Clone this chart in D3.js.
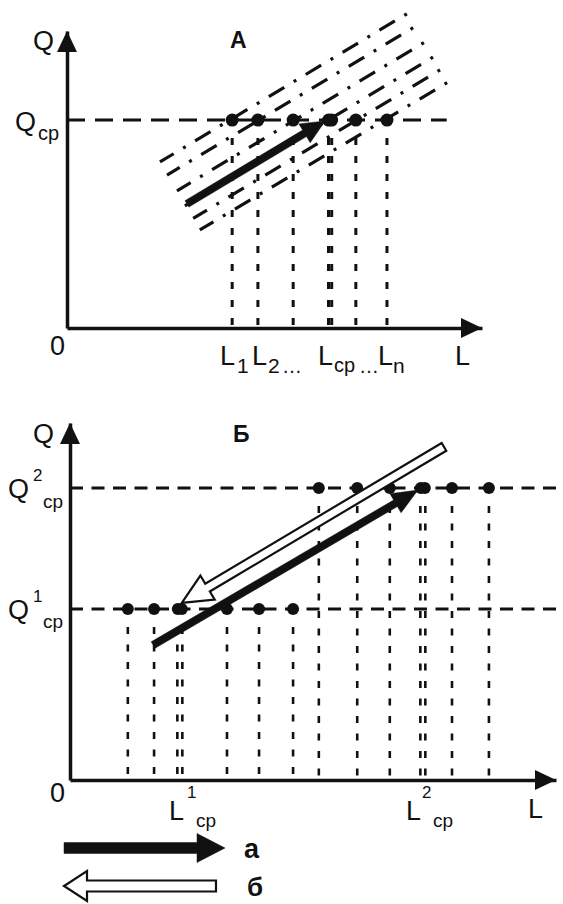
<!DOCTYPE html>
<html><head><meta charset="utf-8">
<script src="https://cdn.jsdelivr.net/npm/d3@7"></script>
<style>
html,body{margin:0;padding:0;background:#fff;}
svg{display:block;font-family:"Liberation Sans",Arial,Helvetica,sans-serif;}
</style></head><body>
<svg id="chart" width="563" height="904"></svg>
<script>
// ---- Panel A: one average level Qср and the spread of lengths L1..Ln ----
const qAvgA = 70;
const lengthsA = [39.8, 46, 54.5, 63.4, 69.6, 77.1];
const avgIndexA = 3;                       // the point at Lср
// parallel dash-dot lines around the trend, [L0, Q0, L1, Q1]
const bandA = [
  [22.4, 55.9, 81.9, 105.8],
  [24.1, 51.5, 83.4, 101.1],
  [26.5, 46.2, 86.0, 96.1],
  [28.4, 41.1, 88.2, 91.2],
  [30.4, 36.9, 89.9, 86.9],
  [32.0, 33.0, 91.6, 82.6]
];
const trendA = [28.9, 41.8, 62.2, 69.7];

// ---- Panel B: two average levels and the transitions between them ----
const qLevelsB = [47.9, 81.8];
const lengthsB1 = [11.9, 17.3, 22.6, 32.3, 38.9, 45.9];
const lengthsB2 = [51.2, 59.1, 65.8, 72.6, 78.6, 86.2];
const avgIndexB1 = 2;                      // L¹ср
const avgIndexB2 = 3;                      // L²ср
const arrowUpB = [17.1, 37.8, 71.6, 81.2];     // а
const arrowDownB = [76.95, 93.3, 23.0, 49.6];  // б

const svg = d3.select("#chart");

const xA = d3.scaleLinear().domain([0, 100]).range([67, 482]);
const yA = d3.scaleLinear().domain([0, 100]).range([328, 31]);
const xB = d3.scaleLinear().domain([0, 100]).range([70, 556]);
const yB = d3.scaleLinear().domain([0, 100]).range([780, 423]);

function arrowPoints(x0, y0, x1, y1, w, hl, hw) {
  const dx = x1 - x0, dy = y1 - y0, len = Math.hypot(dx, dy);
  const ux = dx / len, uy = dy / len, nx = -uy, ny = ux;
  const bx = x1 - ux * hl, by = y1 - uy * hl;
  const p = (x, y, k) => [x + nx * k, y + ny * k];
  return [p(x0, y0, w / 2), p(bx, by, w / 2), p(bx, by, hw), [x1, y1],
          p(bx, by, -hw), p(bx, by, -w / 2), p(x0, y0, -w / 2)];
}
function drawArrow(g, x0, y0, x1, y1, w, hl, hw, hollow) {
  g.append("polygon")
    .attr("points", arrowPoints(x0, y0, x1, y1, w, hl, hw).map(d => d.join(",")).join(" "))
    .attr("fill", hollow ? "#fff" : "#111")
    .attr("stroke", "#111")
    .attr("stroke-width", hollow ? 2.2 : 0.5)
    .attr("stroke-linejoin", "miter");
}
function drawAxes(g, x, y) {
  const x0 = x.range()[0], y0 = y.range()[0];
  const ax = g.append("g").attr("transform", `translate(0,${y0})`)
    .call(d3.axisBottom(x).tickValues([]).tickSizeOuter(0));
  const ay = g.append("g").attr("transform", `translate(${x0},0)`)
    .call(d3.axisLeft(y).tickValues([]).tickSizeOuter(0));
  [ax, ay].forEach(a => a.select(".domain").attr("stroke", "#111").attr("stroke-width", 3.5));
  const xt = x.range()[1], yt = y.range()[1];
  g.append("polygon").attr("fill", "#111")
    .attr("points", `${xt},${y0} ${xt - 21},${y0 - 10} ${xt - 21},${y0 + 10}`);
  g.append("polygon").attr("fill", "#111")
    .attr("points", `${x0},${yt} ${x0 - 10},${yt + 21} ${x0 + 10},${yt + 21}`);
}
function txt(x, y, s, size, bold) {
  svg.append("text").attr("x", x).attr("y", y).attr("font-size", size)
    .attr("font-weight", bold ? "bold" : "normal").attr("fill", "#111").text(s);
}

// ================= Panel A =================
const gA = svg.append("g");
drawAxes(gA, xA, yA);

// dash-dot band, pattern starts at the upper-right end
bandA.forEach(b => {
  gA.append("line")
    .attr("x1", xA(b[2])).attr("y1", yA(b[3]))
    .attr("x2", xA(b[0])).attr("y2", yA(b[1]))
    .attr("stroke", "#111").attr("stroke-width", 3.2)
    .attr("stroke-dasharray", "3,11,18,11");
});

// average level
gA.append("line")
  .attr("x1", xA(0)).attr("x2", xA(91.5)).attr("y1", yA(qAvgA)).attr("y2", yA(qAvgA))
  .attr("stroke", "#111").attr("stroke-width", 3).attr("stroke-dasharray", "18,10");

// drop lines to the L axis
lengthsA.forEach((l, i) => {
  const offs = i === avgIndexA ? [-1.6, 1.6] : [0];
  offs.forEach(o => {
    gA.append("line")
      .attr("x1", xA(l) + o).attr("x2", xA(l) + o)
      .attr("y1", yA(qAvgA) + 18).attr("y2", yA(0))
      .attr("stroke", "#111").attr("stroke-width", 3)
      .attr("stroke-dasharray", "7,11");
  });
});

// trend arrow
drawArrow(gA, xA(trendA[0]), yA(trendA[1]), xA(trendA[2]), yA(trendA[3]), 7.5, 24, 11, false);

// points on the average level
lengthsA.forEach((l, i) => {
  const offs = i === avgIndexA ? [-1.5, 1.5] : [0];
  offs.forEach(o => gA.append("circle").attr("cx", xA(l) + o).attr("cy", yA(qAvgA))
    .attr("r", 6.5).attr("fill", "#111"));
});

txt(33, 50, "Q", 27);
txt(230, 48, "А", 23, true);
txt(15, 131, "Q", 27);
txt(38, 140, "ср", 20);
txt(50, 355, "0", 27);
txt(455, 365, "L", 27);
txt(220, 365, "L", 27); txt(237, 373, "1", 21);
txt(252, 365, "L", 27); txt(268, 373, "2", 21); txt(282, 373, "…", 20);
txt(318, 365, "L", 27); txt(334, 372, "ср", 20); txt(359, 373, "…", 20);
txt(378, 365, "L", 27); txt(393, 373, "n", 21);

// ================= Panel B =================
const gB = svg.append("g");
drawAxes(gB, xB, yB);

qLevelsB.forEach(q => {
  gB.append("line")
    .attr("x1", xB(0)).attr("x2", xB(100.3)).attr("y1", yB(q)).attr("y2", yB(q))
    .attr("stroke", "#111").attr("stroke-width", 3).attr("stroke-dasharray", "13,8.5");
});

const setsB = [[lengthsB1, qLevelsB[0], avgIndexB1], [lengthsB2, qLevelsB[1], avgIndexB2]];

setsB.forEach(([ls, q, ai]) => {
  ls.forEach((l, i) => {
    const offs = i === ai ? [-2.5, 2.5] : [0];
    offs.forEach(o => {
      gB.append("line")
        .attr("x1", xB(l) + o).attr("x2", xB(l) + o)
        .attr("y1", yB(q) + 18).attr("y2", yB(0))
        .attr("stroke", "#111").attr("stroke-width", 2.6)
        .attr("stroke-dasharray", "7,10.5");
    });
  });
});

setsB.forEach(([ls, q, ai]) => {
  ls.forEach((l, i) => {
    const offs = i === ai ? [-2, 2] : [0];
    offs.forEach(o => gB.append("circle").attr("cx", xB(l) + o).attr("cy", yB(q))
      .attr("r", 6).attr("fill", "#111"));
  });
});

drawArrow(gB, xB(arrowUpB[0]), yB(arrowUpB[1]), xB(arrowUpB[2]), yB(arrowUpB[3]), 7.5, 26, 11, false);
drawArrow(gB, xB(arrowDownB[0]), yB(arrowDownB[1]), xB(arrowDownB[2]), yB(arrowDownB[3]), 9, 30, 14, true);

txt(33, 443, "Q", 27);
txt(233, 442, "Б", 23, true);
txt(8, 498, "Q", 27); txt(33, 481, "2", 17); txt(43, 508, "ср", 19);
txt(8, 619, "Q", 27); txt(33, 602, "1", 17); txt(43, 628, "ср", 19);
txt(50, 802, "0", 27);
txt(169, 820, "L", 27); txt(187, 798, "1", 17); txt(196, 827, "ср", 19);
txt(406, 820, "L", 27); txt(422, 798, "2", 17); txt(433, 827, "ср", 19);
txt(528, 818, "L", 27);

// ================= Legend =================
const gL = svg.append("g");
drawArrow(gL, 64, 848, 225, 848, 11, 28, 14.5, false);
drawArrow(gL, 216, 886, 64, 886, 11, 23, 15, true);
txt(244, 858, "а", 27, true);
txt(247, 896, "б", 26, true);
</script>
</body></html>
